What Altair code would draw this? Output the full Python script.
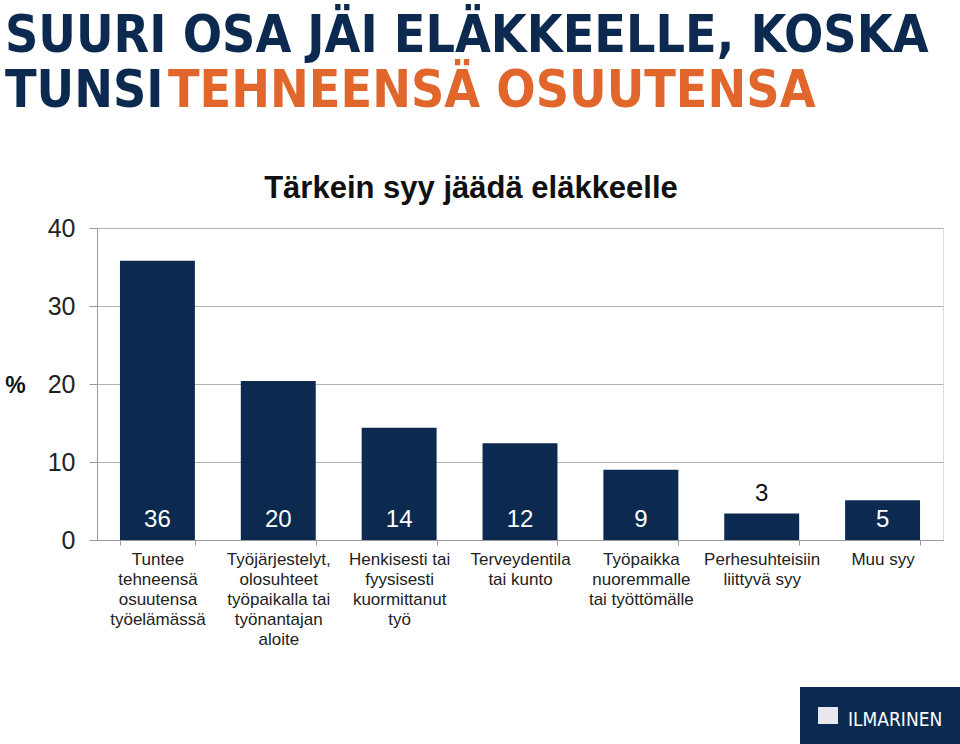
import altair as alt
import pandas as pd

categories = [
    "Tuntee|tehneensä|osuutensa|työelämässä",
    "Työjärjestelyt,|olosuhteet|työpaikalla tai|työnantajan|aloite",
    "Henkisesti tai|fyysisesti|kuormittanut|työ",
    "Terveydentila|tai kunto",
    "Työpaikka|nuoremmalle|tai työttömälle",
    "Perhesuhteisiin|liittyvä syy",
    "Muu syy",
]
values = [35.8, 20.4, 14.4, 12.4, 9.0, 3.4, 5.1]

title_line1 = "SUURI OSA JÄI ELÄKKEELLE, KOSKA"
title_line2a = "TUNSI"
title_line2b = "TEHNEENSÄ OSUUTENSA"
subtitle = "Tärkein syy jäädä eläkkeelle"
logo_text = "ILMARINEN"

NAVY = "#0c2a4f"
ORANGE = "#e0662b"
TITLE_FONT = "DejaVu Sans Condensed"
FONT = "Liberation Sans"

df = pd.DataFrame({"cat": categories, "val": values})

W, H = 846, 312

x_enc = alt.X(
    "cat:N",
    sort=categories,
    scale=alt.Scale(paddingInner=0.38, paddingOuter=0.19),
    axis=alt.Axis(
        title=None,
        labelAngle=0,
        labelExpr="split(datum.label, '|')",
        labelFont=FONT,
        labelFontSize=17,
        labelColor="#222222",
        labelLineHeight=20,
        labelPadding=6,
        labelLimit=0,
        tickBand="extent",
        tickSize=5,
        tickColor="#999999",
        domainColor="#999999",
        grid=False,
    ),
)

y_enc = alt.Y(
    "val:Q",
    scale=alt.Scale(domain=[0, 40], nice=False),
    axis=alt.Axis(
        values=[0, 10, 20, 30, 40],
        title="%",
        titleAngle=0,
        titleX=-82,
        titleY=157,
        titleAlign="center",
        titleBaseline="middle",
        titleFont=FONT,
        titleFontSize=23,
        titleFontWeight="bold",
        titleColor="#111111",
        labelFont=FONT,
        labelFontSize=25,
        labelColor="#222222",
        labelPadding=14,
        tickSize=8,
        tickColor="#999999",
        domainColor="#999999",
        gridColor="#b3b3b3",
        gridWidth=1,
    ),
)

bars = alt.Chart(df).mark_bar(color=NAVY).encode(x=x_enc, y=y_enc)

inside = alt.Chart(df).transform_filter("datum.val >= 4.5").mark_text(
    color="white", font=FONT, fontSize=24, baseline="alphabetic", dy=-13
).encode(
    x=alt.X("cat:N", sort=categories),
    y=alt.datum(0),
    text=alt.Text("val:Q", format=".0f"),
)

above = alt.Chart(df).transform_filter("datum.val < 4.5").mark_text(
    color="#111111", font=FONT, fontSize=24, baseline="alphabetic", dy=-12
).encode(
    x=alt.X("cat:N", sort=categories),
    y=alt.Y("val:Q"),
    text=alt.Text("val:Q", format=".0f"),
)

one = alt.Data(values=[{"k": 1}])

def txt(s, x, y, size, color, font, weight="normal", align="left"):
    return alt.Chart(one).mark_text(
        text=s, font=font, fontSize=size, fontWeight=weight, color=color,
        align=align, baseline="alphabetic",
    ).encode(x=alt.value(x), y=alt.value(y))

t1 = txt(title_line1, -92, -176, 51.5, NAVY, TITLE_FONT, "bold")
t2a = txt(title_line2a, -92, -121, 51.5, NAVY, TITLE_FONT, "bold")
t2b = txt(title_line2b, 71, -121, 51.5, ORANGE, TITLE_FONT, "bold")
sub = txt(subtitle, 374, -30, 31, "#111111", FONT, "bold", "center")

logo_bg = alt.Chart(one).mark_rect(color="#0b2a52").encode(
    x=alt.value(703), x2=alt.value(863), y=alt.value(459), y2=alt.value(516)
)
logo_icon = alt.Chart(one).mark_rect(color="#e8e8ee").encode(
    x=alt.value(721), x2=alt.value(741), y=alt.value(479), y2=alt.value(496)
)
logo_txt = txt(logo_text, 751, 498, 19, "white", TITLE_FONT, "normal")

chart = alt.layer(
    bars, inside, above, t1, t2a, t2b, sub, logo_bg, logo_icon, logo_txt
).properties(
    width=W,
    height=H,
    autosize=alt.AutoSizeParams(type="none"),
    padding={"left": 97, "top": 228, "right": 17, "bottom": 204},
).configure_view(stroke=None).configure(background="white")

chart.save("out.html", embed_options={"renderer": "svg", "actions": False})
